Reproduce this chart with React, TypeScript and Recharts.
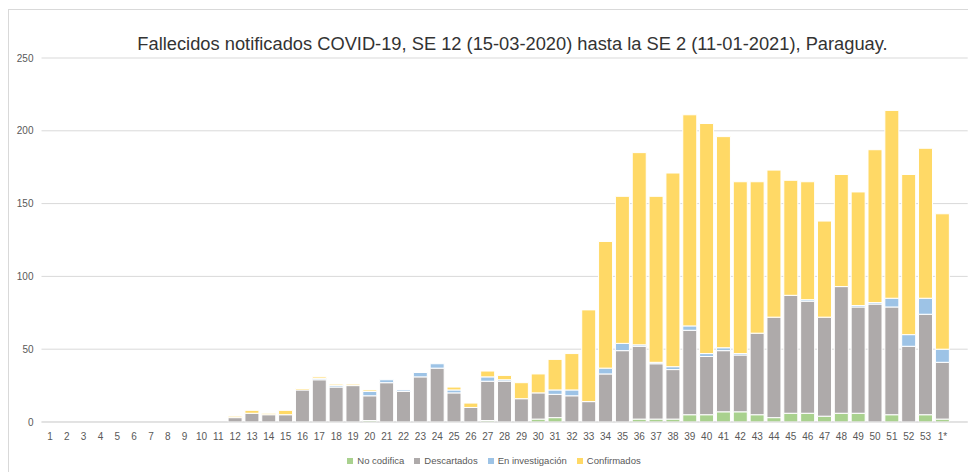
import React from "react";
import { BarChart, Bar, XAxis, YAxis, CartesianGrid, Legend } from "recharts";

const weeks = [
  "1","2","3","4","5","6","7","8","9","10","11","12","13","14","15","16","17","18","19","20",
  "21","22","23","24","25","26","27","28","29","30","31","32","33","34","35","36","37","38","39","40",
  "41","42","43","44","45","46","47","48","49","50","51","52","53","1*",""
];

// values from week 12 to 1*
const noCodifica = [0,0,0,0,0,0,0,0,1,0,0,0,0,0,0,1,0,0,2,3,0,0,0,0,2,2,2,5,5,7,7,5,3,6,6,4,6,6,0,5,0,5,2];
const descartados = [3,6,5,5,22,29,24,25,17,27,21,31,37,20,10,27,28,16,18,16,18,14,33,49,50,38,34,58,40,42,39,56,69,81,77,68,87,73,81,74,52,69,39];
const enInvestigacion = [0,0,0,0,0,1,1,0,3,2,1,3,3,2,0,3,1,0,0,3,4,0,4,5,1,1,2,3,2,2,1,0,0,0,1,0,0,1,1,6,8,11,9];
const confirmados = [1,2,1,3,1,1,1,1,1,0,0,0,0,2,3,4,3,11,13,21,25,63,87,101,132,114,133,145,158,145,118,104,101,79,81,66,77,78,105,129,110,103,93];

const seriesNames = ["No codifica", "Descartados", "En investigación", "Confirmados"];
const yTicks = [0, 50, 100, 150, 200, 250];
const firstDataWeek = 11; // index of week "12"

const data = weeks.map((w, i) => {
  const j = i - firstDataWeek;
  const has = j >= 0 && j < descartados.length;
  return {
    week: w,
    noCodifica: has ? noCodifica[j] : null,
    descartados: has ? descartados[j] : null,
    enInvestigacion: has ? enInvestigacion[j] : null,
    confirmados: has ? confirmados[j] : null,
  };
});

const FONT = "'Liberation Sans', Arial, sans-serif";
const LABEL = "#595959";
const GRID = "#d9d9d9";

export default function App() {
  return (
    <div style={{ position: "fixed", left: 0, top: 0, width: 968, height: 472, overflow: "hidden", background: "#fff" }}>
      <div style={{ position: "absolute", left: 8, top: 9, width: 1000, height: 600, border: `1px solid ${GRID}`, boxSizing: "border-box" }} />
      <div style={{ position: "absolute", left: 0, top: 33, width: 1025, textAlign: "center", fontFamily: FONT, fontSize: 18.3, color: "#333", whiteSpace: "nowrap" }}>
        Fallecidos notificados COVID-19, SE 12 (15-03-2020) hasta la SE 2 (11-01-2021), Paraguay.
      </div>
      <div style={{ position: "absolute", left: 0, top: 0 }}>
        <BarChart
          width={1000}
          height={472}
          data={data}
          margin={{ top: 58, right: 32.3, left: 0, bottom: 4 }}
          barCategoryGap="8%"
        >
          <CartesianGrid vertical={false} stroke={GRID} />
          <XAxis
            dataKey="week"
            interval={0}
            tickLine={false}
            axisLine={{ stroke: GRID }}
            tickMargin={5}
            height={30}
            tick={{ fontSize: 10, fill: LABEL, fontFamily: FONT }}
          />
          <YAxis
            width={41.5}
            domain={[0, 250]}
            ticks={yTicks}
            tickLine={false}
            axisLine={false}
            tick={{ fontSize: 10, fill: LABEL, fontFamily: FONT }}
          />
          <Legend
            iconType="square"
            iconSize={6}
            height={16}
            itemSorter={(item: any) => seriesNames.indexOf(item.value)}
            wrapperStyle={{ left: 344, width: 310, bottom: 1, fontFamily: FONT, fontSize: 9.5 }}
            formatter={(value) => <span style={{ color: LABEL }}>{value}</span>}
          />
          <Bar dataKey="noCodifica" name={seriesNames[0]} stackId="a" fill="#a9d18e" stroke="#fff" strokeWidth={1} isAnimationActive={false} />
          <Bar dataKey="descartados" name={seriesNames[1]} stackId="a" fill="#aeaaaa" stroke="#fff" strokeWidth={1} isAnimationActive={false} />
          <Bar dataKey="enInvestigacion" name={seriesNames[2]} stackId="a" fill="#9dc3e6" stroke="#fff" strokeWidth={1} isAnimationActive={false} />
          <Bar dataKey="confirmados" name={seriesNames[3]} stackId="a" fill="#ffd966" stroke="#fff" strokeWidth={1} isAnimationActive={false} />
        </BarChart>
      </div>
    </div>
  );
}
